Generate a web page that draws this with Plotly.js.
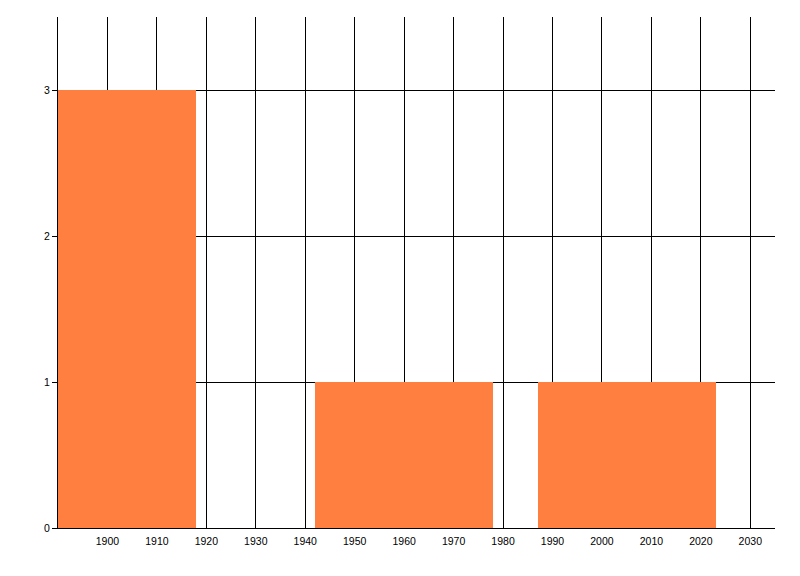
<!DOCTYPE html>
<html>
<head>
<meta charset="utf-8">
<script src="https://cdn.plot.ly/plotly-3.0.1.min.js"></script>
<style>html,body{margin:0;padding:0;background:#fff;}#chart{width:800px;height:576px;}</style>
</head>
<body>
<div id="chart"></div>
<script>
// Data
const binCenters = [1900, 1960, 2005];
const binWidths = [36, 36, 36];
const counts = [3, 1, 1];
const xTickVals = [1900, 1910, 1920, 1930, 1940, 1950, 1960, 1970, 1980, 1990, 2000, 2010, 2020, 2030];
const yTickVals = [0, 1, 2, 3];

const trace = {
  type: 'bar',
  x: binCenters,
  y: counts,
  width: binWidths,
  marker: {color: '#ff7f40', line: {width: 0}},
  hoverinfo: 'none'
};

const layout = {
  width: 800, height: 576,
  margin: {l: 58, r: 25, t: 17, b: 48, pad: 0},
  paper_bgcolor: '#ffffff',
  plot_bgcolor: '#ffffff',
  showlegend: false,
  font: {family: 'Liberation Sans, Arial, sans-serif', size: 10.5, color: '#000'},
  xaxis: {
    range: [1890, 2035],
    tickmode: 'array',
    tickvals: xTickVals,
    ticktext: xTickVals.map(String),
    showgrid: true, gridcolor: '#000', gridwidth: 1,
    showline: true, linecolor: '#000', linewidth: 1,
    zeroline: false,
    ticks: 'outside', ticklen: 3, tickcolor: 'rgba(0,0,0,0)',
    tickfont: {size: 10.5, color: '#000'}
  },
  yaxis: {
    range: [0, 3.5],
    tickmode: 'array',
    tickvals: yTickVals,
    ticktext: yTickVals.map(String),
    showgrid: true, gridcolor: '#000', gridwidth: 1,
    showline: true, linecolor: '#000', linewidth: 1,
    zeroline: false,
    ticks: 'outside', ticklen: 5, tickcolor: '#000',
    tickfont: {size: 10.5, color: '#000'}
  },
  bargap: 0
};

Plotly.newPlot('chart', [trace], layout, {staticPlot: true, displayModeBar: false});
</script>
</body>
</html>
